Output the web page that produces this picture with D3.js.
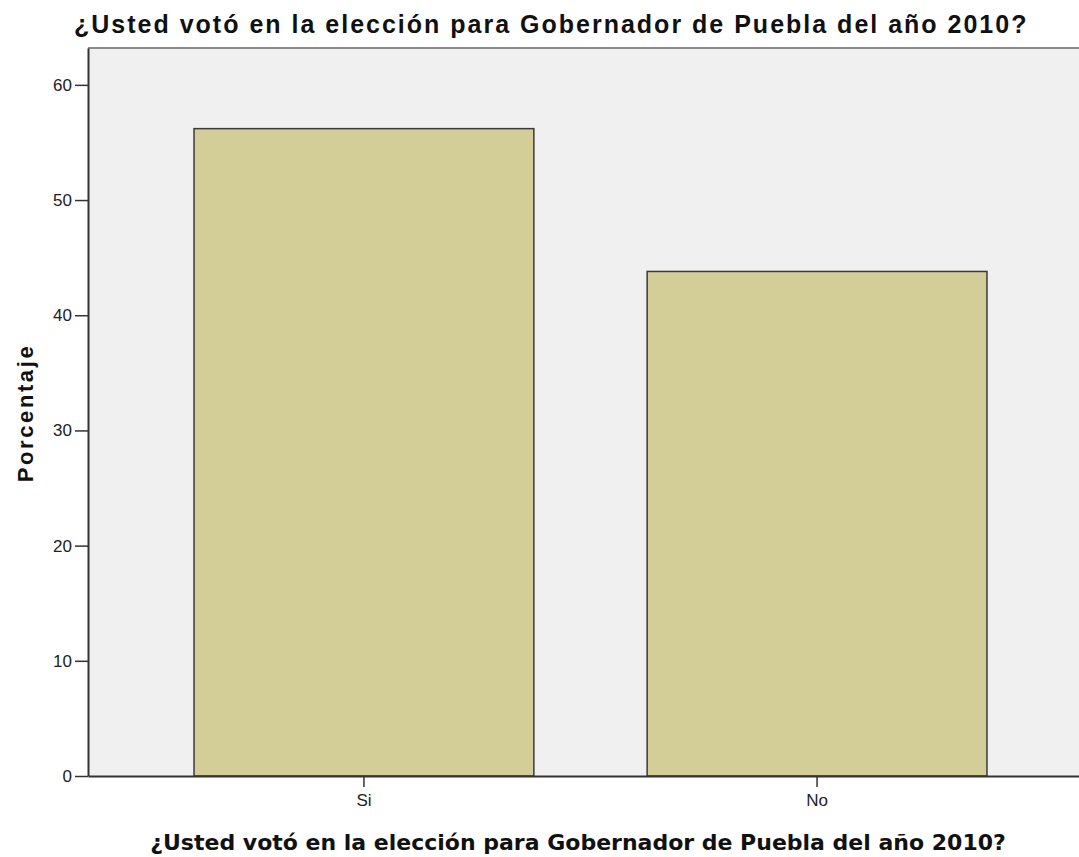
<!DOCTYPE html>
<html>
<head>
<meta charset="utf-8">
<script src="https://cdn.jsdelivr.net/npm/d3@7"></script>
<style>
  body { margin: 0; background: #fff; }
</style>
</head>
<body>
<div id="chart"></div>
<script>
var categories = ["Si", "No"];
var percentages = [56.2, 43.8];
var yTicks = [0, 10, 20, 30, 40, 50, 60];

var titleText = "¿Usted votó en la elección para Gobernador de Puebla del año 2010?";

var margin = { top: 48, right: -14, bottom: 81, left: 88 },
  width = 1079 - margin.left - margin.right,
  height = 857 - margin.top - margin.bottom;

var svg = d3.select("#chart").append("svg")
  .attr("width", 1079)
  .attr("height", 857);

var g = svg.append("g")
  .attr("transform", "translate(" + margin.left + "," + margin.top + ")");

var x = d3.scaleBand()
  .domain(categories)
  .range([0, width])
  .paddingInner(0.25)
  .paddingOuter(0.234);

var y = d3.scaleLinear()
  .domain([0, 63.2])
  .range([height, 0]);

// plot background
g.append("rect")
  .attr("x", 0)
  .attr("y", 0)
  .attr("width", width)
  .attr("height", height)
  .style("fill", "#f0f0f0");

g.append("line")
  .attr("x1", 0).attr("x2", width)
  .attr("y1", 0).attr("y2", 0)
  .style("stroke", "#8a8a8a")
  .style("stroke-width", 2);

g.selectAll(".bar")
  .data(categories)
  .enter().append("rect")
  .attr("class", "bar")
  .attr("x", function(d) { return x(d); })
  .attr("width", x.bandwidth())
  .attr("y", function(d, i) { return y(percentages[i]); })
  .attr("height", function(d, i) { return height - y(percentages[i]); })
  .style("fill", "#d3ce98")
  .style("stroke", "#3a3a3a")
  .style("stroke-width", 1.5);

var yAxis = d3.axisLeft(y)
  .tickValues(yTicks)
  .tickSize(13)
  .tickSizeOuter(0)
  .tickPadding(3);

var xAxis = d3.axisBottom(x)
  .tickSize(11)
  .tickSizeOuter(0)
  .tickPadding(7);

function styleAxis(sel) {
  sel.attr("font-family", "Arial, 'Liberation Sans', sans-serif")
    .attr("font-size", 17);
  sel.selectAll("text").style("fill", "#222");
  sel.selectAll("line").style("stroke", "#333").style("stroke-width", 1.5);
  sel.select(".domain").style("stroke", "#333").style("stroke-width", 2);
}

g.append("g")
  .attr("class", "y axis")
  .call(yAxis)
  .call(styleAxis);

g.append("g")
  .attr("class", "x axis")
  .attr("transform", "translate(0," + height + ")")
  .call(xAxis)
  .call(styleAxis);

// titles
svg.append("text")
  .attr("x", 74)
  .attr("y", 33)
  .style("font-family", "Arial, 'Liberation Sans', sans-serif")
  .style("font-weight", "bold")
  .style("font-size", "25px")
  .style("letter-spacing", "2px")
  .style("fill", "#111")
  .text(titleText);

svg.append("text")
  .attr("x", 578)
  .attr("y", 850)
  .attr("text-anchor", "middle")
  .style("font-family", "'DejaVu Sans', Verdana, sans-serif")
  .style("font-weight", "bold")
  .style("font-size", "22px")
  .style("fill", "#111")
  .text(titleText);

svg.append("text")
  .attr("transform", "translate(33,413) rotate(-90)")
  .attr("text-anchor", "middle")
  .style("font-family", "Arial, 'Liberation Sans', sans-serif")
  .style("font-weight", "bold")
  .style("font-size", "22px")
  .style("letter-spacing", "2.6px")
  .style("fill", "#111")
  .text("Porcentaje");
</script>
</body>
</html>
